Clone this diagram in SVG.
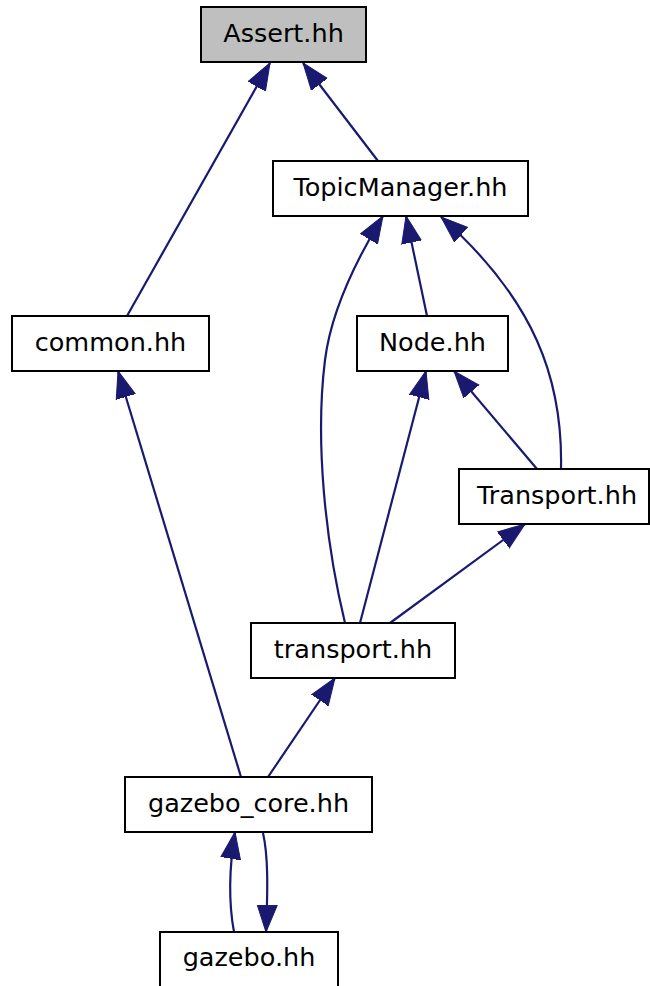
<svg xmlns="http://www.w3.org/2000/svg" width="650" height="986" viewBox="0 0 650 986">
  <style>
    .node rect { fill: #ffffff; stroke: #000000; stroke-width: 2; }
    .node.root rect { fill: #bfbfbf; }
    .node text { font-family: "DejaVu Sans", sans-serif; font-size: 25.5px; fill: #000000; text-anchor: middle; }
    .edge { fill: none; stroke: #191970; stroke-width: 2.2; marker-end: url(#arrow); }
  </style>
  <defs>
    <marker id="arrow" markerUnits="userSpaceOnUse" markerWidth="28" markerHeight="22" viewBox="0 -11 28 22" refX="27" refY="0" orient="auto">
      <path d="M0,-10 L27,0 L0,10 Z" fill="#191970" stroke="#191970" stroke-width="1"/>
    </marker>
  </defs>
  <rect width="650" height="986" fill="#ffffff"/>

  <g id="edges">
    <!-- common.hh -> Assert.hh -->
    <path class="edge" d="M127,316 L270,63"/>
    <!-- TopicManager.hh -> Assert.hh -->
    <path class="edge" d="M378,161 L303,63"/>
    <!-- transport.hh -> TopicManager.hh -->
    <path class="edge" d="M345,623 C325,540 315,440 325,360 C330,320 350,270 383,216"/>
    <!-- Node.hh -> TopicManager.hh -->
    <path class="edge" d="M427,316 L406,216"/>
    <!-- Transport.hh -> TopicManager.hh -->
    <path class="edge" d="M561,469 C563,380 535,300 441,217"/>
    <!-- transport.hh -> Node.hh -->
    <path class="edge" d="M360,623 L426,371"/>
    <!-- Transport.hh -> Node.hh -->
    <path class="edge" d="M537,469 L454,371"/>
    <!-- transport.hh -> Transport.hh -->
    <path class="edge" d="M390,623 L525,524"/>
    <!-- gazebo_core.hh -> common.hh -->
    <path class="edge" d="M241,777 L118,371"/>
    <!-- gazebo_core.hh -> transport.hh -->
    <path class="edge" d="M268,777 L335,678"/>
    <!-- gazebo.hh -> gazebo_core.hh -->
    <path class="edge" d="M234,932 C229,905 228,875 235,832"/>
    <!-- gazebo_core.hh -> gazebo.hh -->
    <path class="edge" d="M263,833 C268,855 268,885 266,932"/>
  </g>

  <g id="node-assert" class="node root">
    <rect x="201" y="7" width="165" height="55"/>
    <text x="283.5" y="42">Assert.hh</text>
  </g>
  <g id="node-topicmanager" class="node">
    <rect x="273" y="161" width="255" height="55"/>
    <text x="400.5" y="196">TopicManager.hh</text>
  </g>
  <g id="node-common" class="node">
    <rect x="12" y="316" width="197" height="55"/>
    <text x="110.5" y="351">common.hh</text>
  </g>
  <g id="node-node" class="node">
    <rect x="357" y="316" width="151" height="55"/>
    <text x="432.5" y="351">Node.hh</text>
  </g>
  <g id="node-transport-class" class="node">
    <rect x="459" y="469" width="190" height="55"/>
    <text x="557" y="504">Transport.hh</text>
  </g>
  <g id="node-transport" class="node">
    <rect x="251" y="623" width="204" height="55"/>
    <text x="353" y="658">transport.hh</text>
  </g>
  <g id="node-gazebo-core" class="node">
    <rect x="125" y="777" width="247" height="55"/>
    <text x="248.5" y="812">gazebo_core.hh</text>
  </g>
  <g id="node-gazebo" class="node">
    <rect x="160" y="932" width="178" height="60"/>
    <text x="249" y="966">gazebo.hh</text>
  </g>
</svg>
